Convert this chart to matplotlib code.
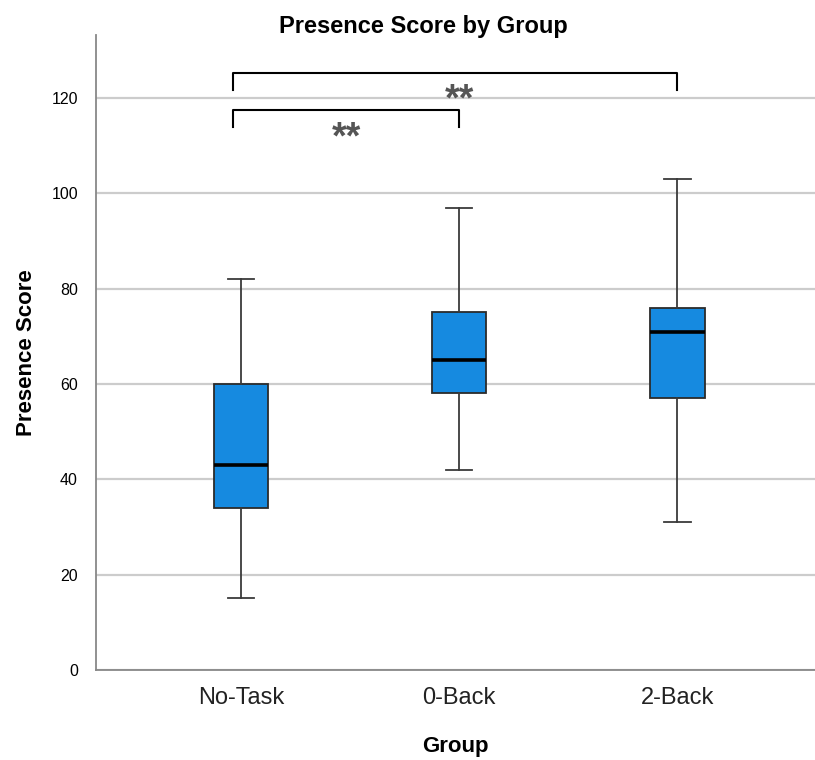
import matplotlib.pyplot as plt
import numpy as np

# datos
grupos = ["No-Task", "0-Back", "2-Back"]
minimos = [15, 42, 31]
q1 = [34, 58, 57]
medianas = [43, 65, 71]
q3 = [60, 75, 76]
maximos = [82, 97, 103]

# comparaciones significativas: grupo a, grupo b, altura del corchete, x del texto, base del texto
comparaciones = [(0, 1, 117.5, 0.485, 109.3), (0, 2, 125.3, 1.0, 117.3)]
y_ticks = [0, 20, 40, 60, 80, 100, 120]

plt.rcParams["font.family"] = ["Liberation Sans", "DejaVu Sans"]

fig = plt.figure(figsize=(8.15, 7.6), dpi=100)
ax = fig.add_axes([96 / 815, 90 / 760, 1 - 96 / 815, 635 / 760])

stats = []
for i, g in enumerate(grupos):
    stats.append({"label": g, "whislo": minimos[i], "q1": q1[i], "med": medianas[i],
                  "q3": q3[i], "whishi": maximos[i], "fliers": []})

pos = np.arange(len(grupos))
ax.bxp(stats, positions=pos, widths=0.25, patch_artist=True, showfliers=False,
       boxprops=dict(facecolor="#168ae0", edgecolor="#2b2b2b", linewidth=1.3),
       medianprops=dict(color="black", linewidth=2.6),
       whiskerprops=dict(color="#3a3a3a", linewidth=1.3),
       capprops=dict(color="#3a3a3a", linewidth=1.3),
       capwidths=0.12, zorder=3)

ax.set_xlim(-0.664, 2.63)
ax.set_ylim(0, 133.2)
ax.set_yticks(y_ticks)
ax.set_yticklabels([str(t) for t in y_ticks], fontsize=11.5)
ax.set_xticks(pos)
ax.set_xticklabels(grupos, fontsize=17, color="#222222")
ax.tick_params(axis="both", length=0)
ax.tick_params(axis="y", pad=13)
ax.tick_params(axis="x", pad=12)
ax.yaxis.grid(True, color="#cccccc", linewidth=1.6, zorder=0)
ax.set_axisbelow(True)
for s in ["top", "right"]:
    ax.spines[s].set_visible(False)
for s in ["left", "bottom"]:
    ax.spines[s].set_color("#888888")
    ax.spines[s].set_linewidth(1.3)

# corchetes de significancia
for a, b, h, xt, yt in comparaciones:
    ax.plot([a - 0.037, a - 0.037, b, b], [h - 3.6, h, h, h - 3.6],
            color="black", linewidth=1.5, zorder=4)
    ax.text(xt, yt, "**", ha="center", va="baseline", fontsize=27,
            fontweight="bold", color="#555555")

fig.text(423 / 815, 1 - 26 / 760, "Presence Score by Group", ha="center", va="center",
         fontsize=17, fontweight="bold")
ax.set_ylabel("Presence Score", fontsize=16, fontweight="bold", labelpad=10)
ax.set_xlabel("Group", fontsize=16, fontweight="bold", labelpad=20)

fig.savefig("out.png", dpi=100)
